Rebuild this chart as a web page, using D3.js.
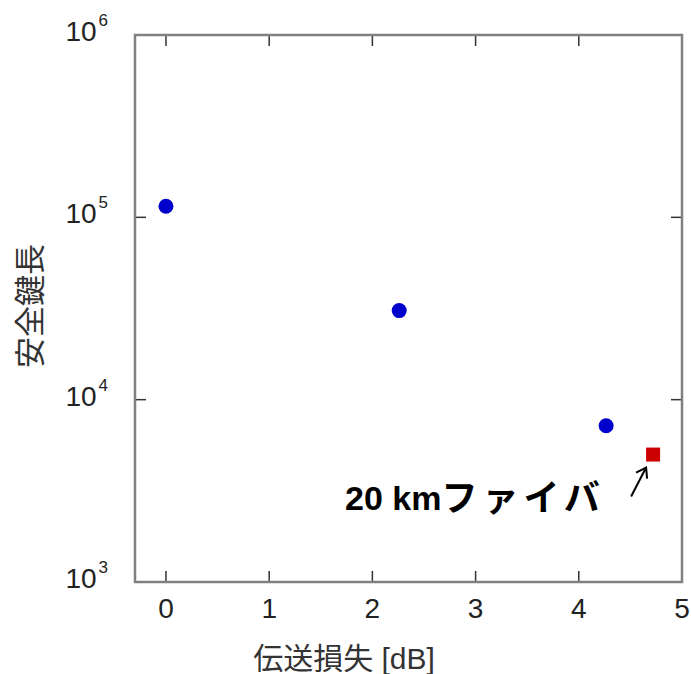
<!DOCTYPE html>
<html>
<head>
<meta charset="utf-8">
<script src="https://cdn.jsdelivr.net/npm/d3@7"></script>
<style>
  body { margin: 0; background: #fff; }
  text { font-family: "Liberation Sans", Arial, "Noto Sans CJK JP", sans-serif; }
</style>
</head>
<body>
<div id="chart"></div>
<script>
// data
var lossDb = [0, 2.26, 4.265];
var keyLength = [115000, 30800, 7200];
var fiberLoss = [4.72];
var fiberKey = [5000];
var xTicks = [0, 1, 2, 3, 4, 5];
var yTicks = [1e3, 1e4, 1e5, 1e6];

var svgWidth = 691;
var svgHeight = 674;

var margin = { top: 35, right: 9, bottom: 92, left: 135 };
var width = svgWidth - margin.left - margin.right;
var height = svgHeight - margin.top - margin.bottom;

var svg = d3.select("#chart")
  .append("svg")
  .attr("width", svgWidth)
  .attr("height", svgHeight);

var chartGroup = svg.append("g")
  .attr("transform", `translate(${margin.left}, ${margin.top})`);

var xScale = d3.scaleLinear().domain([-0.3, 5]).range([0, width]);
var yScale = d3.scaleLog().domain([1e3, 1e6]).range([height, 0]);

// ticks, inward on all four sides
var tickLen = 11;
var tickGroup = chartGroup.append("g")
  .attr("stroke", "#333")
  .attr("stroke-width", 1.5);

xTicks.forEach(function(t) {
  var x = xScale(t);
  tickGroup.append("line").attr("x1", x).attr("x2", x).attr("y1", height).attr("y2", height - tickLen);
  tickGroup.append("line").attr("x1", x).attr("x2", x).attr("y1", 0).attr("y2", tickLen);
});
yTicks.forEach(function(t) {
  var y = yScale(t);
  tickGroup.append("line").attr("x1", 0).attr("x2", tickLen).attr("y1", y).attr("y2", y);
  tickGroup.append("line").attr("x1", width).attr("x2", width - tickLen).attr("y1", y).attr("y2", y);
});

// box
chartGroup.append("rect")
  .attr("width", width)
  .attr("height", height)
  .attr("fill", "none")
  .attr("stroke", "#808080")
  .attr("stroke-width", 2.5);

// x tick labels
chartGroup.append("g").selectAll("text")
  .data(xTicks)
  .enter()
  .append("text")
  .attr("x", d => xScale(d))
  .attr("y", height + 36)
  .attr("text-anchor", "middle")
  .attr("font-size", 28)
  .attr("fill", "#222")
  .text(d => d);

// y tick labels 10^n
var yLabels = chartGroup.append("g").selectAll("text")
  .data(yTicks)
  .enter()
  .append("text")
  .attr("x", -27)
  .attr("y", d => yScale(d) + 6)
  .attr("font-size", 28)
  .attr("fill", "#222");
yLabels.append("tspan").attr("text-anchor", "end").text("10");
yLabels.append("tspan")
  .attr("font-size", 17)
  .attr("dx", 2)
  .attr("dy", -15)
  .text(d => Math.round(Math.log10(d)));

// points
chartGroup.append("g").selectAll("circle")
  .data(lossDb)
  .enter()
  .append("circle")
  .attr("cx", (d, i) => xScale(d))
  .attr("cy", (d, i) => yScale(keyLength[i]))
  .attr("r", 7.5)
  .attr("fill", "#0000cc");

chartGroup.append("g").selectAll("rect")
  .data(fiberLoss)
  .enter()
  .append("rect")
  .attr("x", d => xScale(d) - 7)
  .attr("y", (d, i) => yScale(fiberKey[i]) - 7)
  .attr("width", 14)
  .attr("height", 14)
  .attr("fill", "#cc0000");

// annotation arrow
var fx = xScale(fiberLoss[0]);
var fy = yScale(fiberKey[0]);
var ax = fx - 7, ay = fy + 13;
var bx = fx - 22, by = fy + 42;
chartGroup.append("line")
  .attr("x1", bx).attr("y1", by).attr("x2", ax).attr("y2", ay)
  .attr("stroke", "#000").attr("stroke-width", 2);
chartGroup.append("path")
  .attr("d", `M${ax - 10},${ay + 5} L${ax},${ay} L${ax + 1},${ay + 11}`)
  .attr("fill", "none").attr("stroke", "#000").attr("stroke-width", 2);

var note = chartGroup.append("text")
  .attr("x", 345 - margin.left)
  .attr("y", 510 - margin.top)
  .attr("font-size", 34)
  .attr("font-weight", "bold")
  .attr("fill", "#000");
note.append("tspan").text("20 km");
note.append("tspan")
  .attr("font-family", "Noto Sans CJK JP")
  .attr("font-size", 36)
  .attr("dy", 1)
  .attr("letter-spacing", 5)
  .text("ファイバ");

// axis titles
svg.append("text")
  .attr("x", 344)
  .attr("y", 669)
  .attr("text-anchor", "middle")
  .attr("font-size", 30)
  .attr("fill", "#333")
  .attr("font-family", "Noto Sans CJK JP")
  .text("伝送損失 [dB]");

svg.append("text")
  .attr("transform", "translate(41, 306) rotate(-90)")
  .attr("text-anchor", "middle")
  .attr("font-size", 31)
  .attr("fill", "#333")
  .attr("font-family", "Noto Sans CJK JP")
  .text("安全鍵長");
</script>
</body>
</html>
